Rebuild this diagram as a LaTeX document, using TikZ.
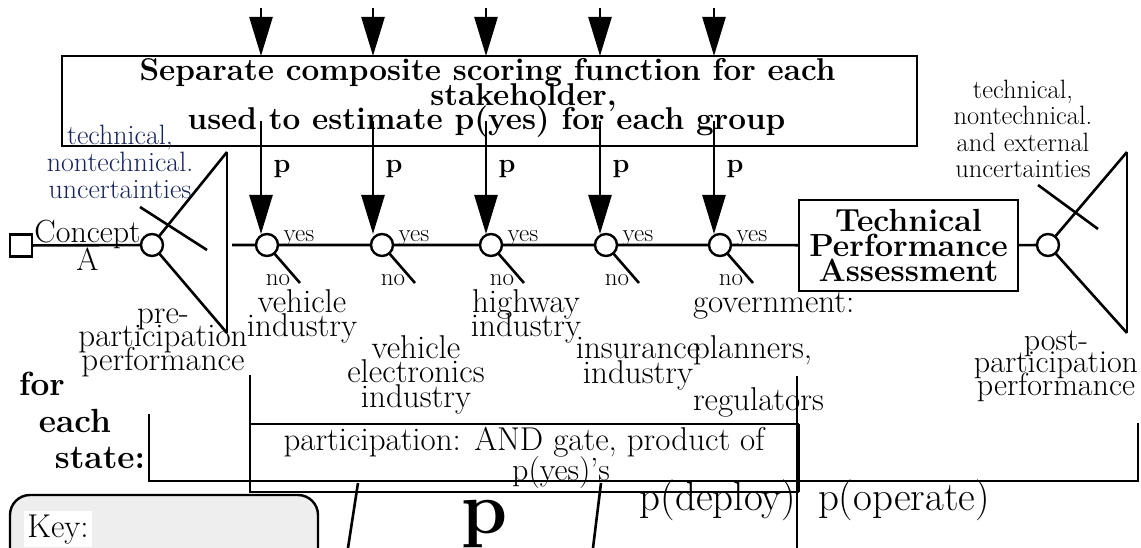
\documentclass[tikz,border=0pt]{standalone}
\usetikzlibrary{arrows.meta}
\definecolor{uncblue}{HTML}{16245E}
\definecolor{keygray}{HTML}{EEEEEE}
\newcommand\fsz[2]{\fontsize{#1}{#2}\selectfont}

\begin{document}
% tight line spacing in the stacked labels
\lineskiplimit=-100pt
\lineskip=0pt
\begin{tikzpicture}[x=1pt,y=-1pt,line width=2.6pt,
  every node/.style={inner sep=0pt,outer sep=0pt},
  % multi-line labels are placed by the baseline of their last line
  lbl/.style={font=\fsz{33}{24},align=center,anchor=base},
  blbl/.style={font=\bfseries\fsz{31.5}{25},align=center,anchor=base},
  yn/.style={font=\fsz{25}{25},anchor=base},
  plbl/.style={font=\bfseries\fsz{27}{27},anchor=base},
  chance/.style={circle,draw,fill=white,minimum size=22pt,line width=2.4pt},
  bigarrow/.style={-{Triangle[length=39pt,width=23pt]},line width=2.6pt},
  frame/.style={draw,line width=2.4pt},
]
\useasboundingbox (0,0) rectangle (1141,548);

% ---------- scoring-function box and its inputs ----------
\node[frame,minimum width=855pt,minimum height=90pt] (hbox) at (489.5,101) {};
\node[blbl] (hd1) at (487.5,81) {Separate composite scoring function for each};
\node[blbl] (hd2) at (523.6,106) {stakeholder,};
\node[blbl] (hd3) at (486.5,130) {used to estimate p(yes) for each group};

\foreach \i/\x in {1/261,2/373,3/486,4/600,5/714}{
  \coordinate (ta\i) at (\x,8);
  \draw[bigarrow] (ta\i) -- (ta\i |- hbox.north);
}

% ---------- stakeholder chance nodes ----------
\node[chance] (c1) at (267,245) {};
\node[chance] (c2) at (382,245) {};
\node[chance] (c3) at (491,245) {};
\node[chance] (c4) at (606,245) {};
\node[chance] (c5) at (720,245) {};

\foreach \i/\x in {1/261,2/373,3/486,4/600,5/714}{
  \coordinate (sa\i) at (\x,121);
  \draw[bigarrow] (sa\i) -- (sa\i |- c\i.north);
  \node[plbl] (p\i) at (\x+21,173) {p};
}

\foreach \i/\x in {1/267,2/382,3/491,4/606,5/720}{
  \coordinate (nb\i) at (\x+33,283);
  \draw (c\i) -- (nb\i);
  \node[yn] (yes\i) at (\x+32,242) {yes};
  \node[yn] (no\i) at (\x+11,286) {no};
}

% ---------- technical performance assessment ----------
\node[frame,minimum width=219pt,minimum height=91pt,align=center,
      font=\bfseries\fsz{32}{25}] (tpa) at (908.5,245.5) {Technical\\Performance\\Assessment};

\coordinate (hs) at (232,245);
\draw (hs) -- (c1) -- (c2) -- (c3) -- (c4) -- (c5) -- (tpa);

% ---------- concept decision and pre-participation fan ----------
\node[frame,minimum size=22pt] (sq) at (21,245.5) {};
\node[chance] (c0) at (152,245) {};
\draw (sq) -- (c0);
\node[lbl,font=\fsz{32}{28}] (concept) at (87.5,270) {Concept\\A};

\coordinate (lft) at (227,152);
\coordinate (lfb) at (227,333);
\draw (c0) -- (lft);
\draw (c0) -- (lfb);
\draw (lft) -- (lfb);
\coordinate (lx1) at (140,207);
\coordinate (lx2) at (207,250);
\draw (lx1) -- (lx2);

\node[lbl,font=\fsz{28}{27},text=uncblue] (unc1) at (120,199)
  {technical,\\nontechnical.\\uncertainties};
\node[lbl,font=\fsz{33}{23.5}] (pre) at (163,370) {pre-\\participation\\performance};

% ---------- post-participation fan ----------
\node[chance] (c6) at (1048,245) {};
\draw (tpa) -- (c6);
\coordinate (rft) at (1127,152);
\coordinate (rfb) at (1127,333);
\draw (c6) -- (rft);
\draw (c6) -- (rfb);
\draw (rft) -- (rfb);
\coordinate (rx1) at (1038,185);
\coordinate (rx2) at (1098,229);
\draw (rx1) -- (rx2);

\node[lbl,font=\fsz{26.5}{26.5}] (unc2) at (1023,178)
  {technical,\\nontechnical.\\and external\\uncertainties};
\node[lbl,font=\fsz{32}{22.5}] (post) at (1056,395) {post-\\participation\\performance};

% ---------- stakeholder names ----------
\node[lbl] (vind) at (302,336) {vehicle\\industry};
\node[lbl,font=\fsz{33}{24.5}] (veind) at (416,407) {vehicle\\electronics\\industry};
\node[lbl] (hind) at (526,336) {highway\\industry};
\node[lbl,font=\fsz{33}{25}] (iind) at (638,383) {insurance\\industry};
\node[lbl,align=left,anchor=base west] (gov) at (693,410)
  {government:\\[22pt]planners,\\[28pt]regulators};

% ---------- per-state bracket and participation gate ----------
\node[font=\bfseries\fsz{33.5}{33.5},anchor=base] (for) at (42,395) {for};
\node[font=\bfseries\fsz{33.5}{33.5},anchor=base] (each) at (75,432) {each};
\node[font=\bfseries\fsz{33.5}{33.5},anchor=base] (state) at (100,468) {state:};

\coordinate (fs1) at (149,414);
\coordinate (fs2) at (149,481);
\coordinate (fs3) at (1138,481);
\coordinate (fs4) at (1138,423);
\draw (fs1) -- (fs2) -- (fs3) -- (fs4);

\node[frame,minimum width=548pt,minimum height=68pt] (pbox) at (524,458) {};
\draw[line width=3.6pt] (pbox.north east) -- (pbox.south east);
\coordinate (pv1) at (250,375);
\draw (pv1) -- (pbox.north west);
\node[lbl] (ptxt1) at (524,450) {participation: AND gate, product of};
\node[lbl,font=\fsz{32}{32}] (ptxt2) at (561,480) {p(yes)'s};

\coordinate (dv1) at (797,376);
\coordinate (dv2) at (797,548);
\draw (dv1) -- (dv2);

\coordinate (sl1a) at (358,483);
\coordinate (sl1b) at (348,548);
\draw (sl1a) -- (sl1b);
\coordinate (sl2a) at (601,483);
\coordinate (sl2b) at (593,548);
\draw (sl2a) -- (sl2b);

\node[font=\bfseries\fsz{74}{74},anchor=base] (bigp) at (485,533) {p};
\node[font=\fsz{41}{41},anchor=base] (pdep) at (718,510) {p(deploy)};
\node[font=\fsz{41}{41},anchor=base] (pop) at (904,510) {p(operate)};

% ---------- key ----------
\draw[fill=keygray,rounded corners=20pt,line width=2.4pt] (10,495) rectangle (318,590);
\node[fill=white,inner sep=3pt,font=\fsz{33}{33},anchor=base] (key) at (58,537) {Key:};
\end{tikzpicture}
\end{document}
